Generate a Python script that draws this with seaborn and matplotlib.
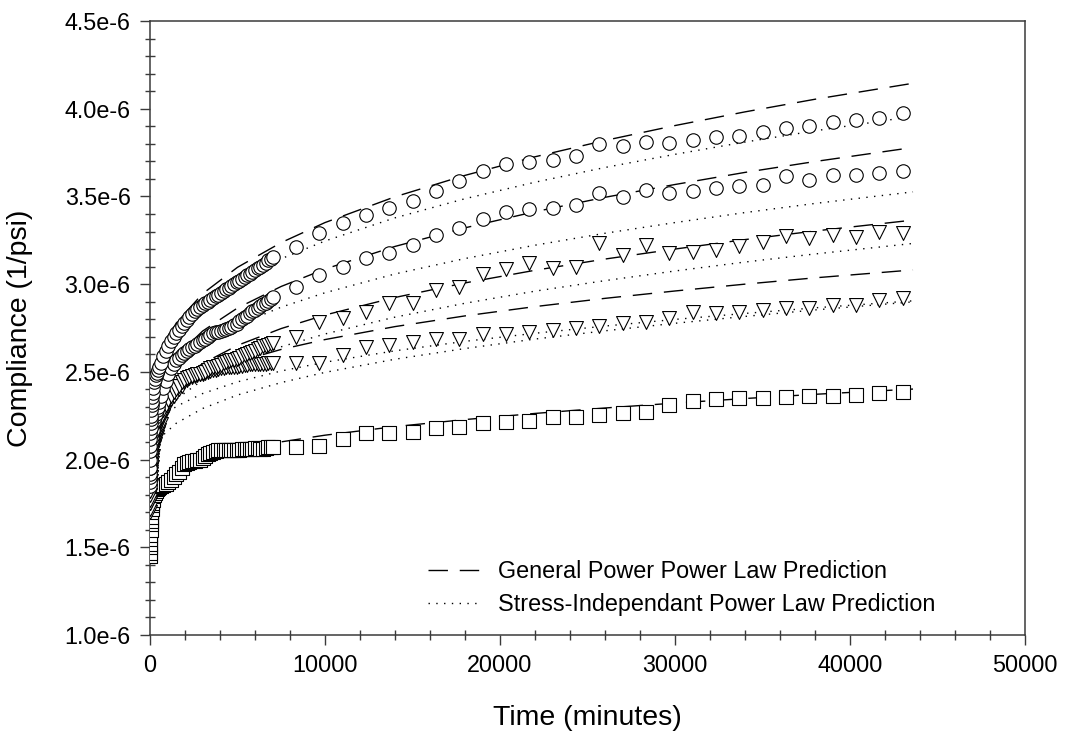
import matplotlib
matplotlib.use("Agg")
import numpy as np
import pandas as pd
import matplotlib.pyplot as plt
from matplotlib.lines import Line2D
from matplotlib.ticker import MultipleLocator, FuncFormatter
import seaborn as sns

# ---------------------------------------------------------------------------
# Creep compliance data (compliance values in units of 1e-6 1/psi)
# ---------------------------------------------------------------------------
# very first readings right after loading (minutes)
t_first = [2, 8, 20, 40, 60, 90, 125, 190, 240, 350, 400, 520]
# early, densely logged readings (minutes)
t_dense = [0, 5, 15, 30, 50, 75, 105, 150, 300, 450, 600, 750, 900, 1050, 1200,
           1350, 1500, 1650, 1800, 1950, 2100, 2250, 2400, 2550, 2700, 2850,
           3000, 3150, 3300, 3450, 3600, 3750, 3900, 4050, 4200, 4350, 4500,
           4650, 4800, 4950, 5100, 5250, 5400, 5550, 5700, 5850, 6000, 6150,
           6300, 6450, 6600, 6750, 6900]
# later, daily-ish readings (minutes)
t_sparse = [7000, 8330, 9660, 11000, 12330, 13660, 15000, 16330, 17660, 19000,
            20330, 21660, 23000, 24330, 25660, 27000, 28330, 29660, 31000,
            32330, 33660, 35000, 36330, 37660, 39000, 40330, 41660, 43000]

c1_first = [2.00, 2.08, 2.15, 2.21, 2.25, 2.31, 2.355, 2.41, 2.44, 2.48, 2.495, 2.53]
c1_dense = [1.95, 2.05, 2.12, 2.18, 2.23, 2.28, 2.33, 2.38, 2.46, 2.51, 2.55, 2.59,
            2.62, 2.65, 2.675, 2.70, 2.72, 2.74, 2.76, 2.78, 2.795, 2.81, 2.83,
            2.845, 2.86, 2.87, 2.88, 2.89, 2.90, 2.91, 2.92, 2.93, 2.94, 2.95,
            2.96, 2.97, 2.98, 2.99, 3.00, 3.01, 3.02, 3.03, 3.04, 3.05, 3.06,
            3.07, 3.08, 3.09, 3.10, 3.11, 3.12, 3.135, 3.145]
c1_sparse = [3.157, 3.213, 3.290, 3.350, 3.394, 3.432, 3.474, 3.531, 3.588, 3.645,
             3.683, 3.698, 3.708, 3.730, 3.797, 3.789, 3.808, 3.806, 3.822, 3.838,
             3.847, 3.869, 3.888, 3.901, 3.926, 3.936, 3.945, 3.974]

c2_first = [1.87, 1.92, 1.97, 2.03, 2.07, 2.11, 2.15, 2.20, 2.22, 2.26, 2.28, 2.33]
c2_dense = [1.85, 1.90, 1.95, 2.00, 2.05, 2.09, 2.13, 2.17, 2.24, 2.30, 2.36, 2.41,
            2.45, 2.49, 2.52, 2.545, 2.565, 2.58, 2.595, 2.61, 2.62, 2.63, 2.64,
            2.65, 2.66, 2.67, 2.68, 2.69, 2.70, 2.71, 2.72, 2.725, 2.73, 2.735,
            2.74, 2.745, 2.75, 2.755, 2.765, 2.775, 2.79, 2.80, 2.81, 2.82, 2.835,
            2.845, 2.855, 2.865, 2.875, 2.885, 2.895, 2.905, 2.915]
c2_sparse = [2.929, 2.982, 3.052, 3.100, 3.147, 3.176, 3.223, 3.280, 3.322, 3.373,
             3.413, 3.427, 3.432, 3.451, 3.518, 3.499, 3.537, 3.521, 3.531, 3.546,
             3.557, 3.565, 3.616, 3.594, 3.622, 3.622, 3.632, 3.647]

t1_first = [1.77, 1.82, 1.87, 1.93, 1.97, 2.02, 2.06, 2.11, 2.13, 2.17, 2.18, 2.22]
t1_dense = [1.75, 1.80, 1.85, 1.90, 1.95, 2.00, 2.04, 2.08, 2.15, 2.20, 2.24, 2.28,
            2.31, 2.34, 2.36, 2.385, 2.40, 2.42, 2.44, 2.455, 2.465, 2.47, 2.475,
            2.48, 2.485, 2.49, 2.495, 2.50, 2.51, 2.52, 2.525, 2.53, 2.535, 2.54,
            2.55, 2.555, 2.56, 2.565, 2.57, 2.575, 2.58, 2.59, 2.595, 2.60, 2.605,
            2.615, 2.62, 2.63, 2.635, 2.645, 2.65, 2.655, 2.66]
t1_sparse = [2.663, 2.700, 2.786, 2.805, 2.843, 2.890, 2.891, 2.967, 2.986, 3.060,
             3.087, 3.123, 3.090, 3.100, 3.233, 3.166, 3.223, 3.180, 3.185, 3.195,
             3.215, 3.242, 3.274, 3.261, 3.280, 3.270, 3.299, 3.290]

t2_first = [1.72, 1.77, 1.82, 1.88, 1.92, 1.96, 2.00, 2.05, 2.07, 2.11, 2.13, 2.17]
t2_dense = [1.70, 1.75, 1.80, 1.85, 1.90, 1.94, 1.98, 2.02, 2.09, 2.15, 2.20, 2.25,
            2.29, 2.32, 2.345, 2.365, 2.38, 2.40, 2.42, 2.44, 2.455, 2.465, 2.47,
            2.475, 2.48, 2.485, 2.49, 2.495, 2.50, 2.505, 2.51, 2.51, 2.515, 2.52,
            2.52, 2.525, 2.525, 2.53, 2.53, 2.53, 2.535, 2.535, 2.54, 2.54, 2.545,
            2.545, 2.545, 2.545, 2.545, 2.545, 2.545, 2.548, 2.549]
t2_sparse = [2.549, 2.549, 2.549, 2.596, 2.643, 2.653, 2.672, 2.685, 2.687, 2.715,
             2.715, 2.729, 2.739, 2.751, 2.759, 2.777, 2.786, 2.805, 2.843, 2.834,
             2.843, 2.853, 2.862, 2.862, 2.881, 2.881, 2.910, 2.919]

sq_first = [1.47, 1.52, 1.57, 1.63, 1.67, 1.72, 1.755, 1.79, 1.80, 1.82, 1.83, 1.845]
sq_dense = [1.45, 1.50, 1.55, 1.60, 1.65, 1.70, 1.74, 1.77, 1.81, 1.84, 1.85, 1.855,
            1.86, 1.87, 1.885, 1.90, 1.915, 1.93, 1.95, 1.975, 1.98, 1.985, 1.99,
            1.99, 1.995, 2.00, 2.01, 2.02, 2.03, 2.04, 2.045, 2.05, 2.055, 2.055,
            2.055, 2.055, 2.055, 2.055, 2.055, 2.055, 2.055, 2.06, 2.06, 2.06,
            2.06, 2.062, 2.065, 2.065, 2.06, 2.06, 2.065, 2.07, 2.07]
sq_sparse = [2.073, 2.073, 2.077, 2.115, 2.149, 2.149, 2.159, 2.178, 2.187, 2.207,
             2.216, 2.222, 2.244, 2.241, 2.254, 2.264, 2.273, 2.311, 2.334, 2.344,
             2.349, 2.352, 2.355, 2.360, 2.362, 2.370, 2.378, 2.385]

# model predictions sampled in time (minutes)
t_model = [0, 100, 300, 700, 1500, 3000, 5000, 7500, 10000, 14000, 18000, 22000,
           26000, 30000, 34000, 38000, 43600]

general_curves = [
    [2.170, 2.406, 2.516, 2.635, 2.778, 2.945, 3.096, 3.237, 3.351, 3.498, 3.620,
     3.726, 3.819, 3.904, 3.982, 4.054, 4.145],
    [2.056, 2.261, 2.358, 2.462, 2.586, 2.732, 2.864, 2.987, 3.086, 3.215, 3.321,
     3.413, 3.495, 3.568, 3.637, 3.699, 3.779],
    [2.020, 2.180, 2.256, 2.337, 2.434, 2.547, 2.651, 2.747, 2.824, 2.924, 3.007,
     3.079, 3.143, 3.200, 3.254, 3.303, 3.365],
    [2.094, 2.212, 2.267, 2.327, 2.398, 2.481, 2.557, 2.628, 2.684, 2.758, 2.819,
     2.872, 2.919, 2.961, 3.000, 3.036, 3.081],
    [1.748, 1.826, 1.863, 1.902, 1.949, 2.004, 2.055, 2.101, 2.139, 2.188, 2.228,
     2.263, 2.294, 2.322, 2.348, 2.372, 2.402],
]
independent_curves = [
    [2.191, 2.402, 2.500, 2.607, 2.734, 2.883, 3.019, 3.145, 3.246, 3.378, 3.487,
     3.581, 3.665, 3.740, 3.810, 3.874, 3.956],
    [2.097, 2.267, 2.347, 2.434, 2.537, 2.657, 2.767, 2.869, 2.951, 3.058, 3.146,
     3.222, 3.290, 3.351, 3.408, 3.460, 3.526],
    [1.950, 2.103, 2.174, 2.252, 2.344, 2.453, 2.551, 2.643, 2.716, 2.812, 2.891,
     2.960, 3.020, 3.075, 3.126, 3.172, 3.232],
    [2.035, 2.139, 2.187, 2.240, 2.303, 2.376, 2.443, 2.505, 2.555, 2.620, 2.674,
     2.720, 2.761, 2.799, 2.833, 2.865, 2.905],
    [1.899, 2.018, 2.074, 2.135, 2.207, 2.291, 2.368, 2.439, 2.497, 2.572, 2.633,
     2.687, 2.734, 2.777, 2.816, 2.853, 2.899],
]

legend_labels = ["General Power Power Law Prediction",
                 "Stress-Independant Power Law Prediction"]

MICRO = 1e-6

# ---------------------------------------------------------------------------
sns.set_theme(style="white")
plt.rcParams["font.family"] = ["Liberation Sans", "DejaVu Sans"]
plt.rcParams["text.color"] = "black"

fig = plt.figure(figsize=(10.66, 7.39), dpi=100)
ax = fig.add_axes([150 / 1066, 104 / 739, 875 / 1066, 614 / 739])

DASH = (0, (14, 8.5))
DOT = (0, (1.0, 4.6))

for curve in general_curves:
    sns.lineplot(x=t_model, y=np.array(curve) * MICRO, ax=ax, color="black",
                 linewidth=1.0, linestyle=DASH, zorder=1, legend=False)
for curve in independent_curves:
    sns.lineplot(x=t_model, y=np.array(curve) * MICRO, ax=ax, color="black",
                 linewidth=1.0, linestyle=DOT, zorder=1, legend=False)

series = [
    (sq_first, sq_dense, sq_sparse, "s", 88),
    (t2_first, t2_dense, t2_sparse, "v", 100),
    (t1_first, t1_dense, t1_sparse, "v", 100),
    (c2_first, c2_dense, c2_sparse, "o", 94),
    (c1_first, c1_dense, c1_sparse, "o", 94),
]
for first, dense, sparse, marker, size in series:
    df = pd.DataFrame({
        "time": list(t_first) + list(t_dense) + list(t_sparse),
        "compliance": np.array(list(first) + list(dense) + list(sparse)) * MICRO,
    }).sort_values("time")
    sns.scatterplot(data=df, x="time", y="compliance", ax=ax, marker=marker,
                    s=size, color="white", edgecolor="black", linewidth=0.8,
                    zorder=3, legend=False)

ax.set_xlim(0, 50000)
ax.set_ylim(1.0e-6, 4.5e-6)

ax.xaxis.set_major_locator(MultipleLocator(10000))
ax.xaxis.set_minor_locator(MultipleLocator(2000))
ax.yaxis.set_major_locator(MultipleLocator(0.5e-6))
ax.yaxis.set_minor_locator(MultipleLocator(0.1e-6))
ax.xaxis.set_major_formatter(FuncFormatter(lambda v, p: f"{v:.0f}"))
ax.yaxis.set_major_formatter(FuncFormatter(lambda v, p: f"{v / MICRO:.1f}e-6"))

spine_color = "#3a3a3a"
for s in ax.spines.values():
    s.set_color(spine_color)
    s.set_linewidth(1.1)

ax.tick_params(which="major", direction="out", length=7, width=1.0,
               color=spine_color, labelsize=16.8, pad=7, labelcolor="black",
               bottom=True, left=True, top=False, right=False)
ax.tick_params(which="minor", direction="inout", length=7, width=1.0,
               color=spine_color, bottom=True, left=True, top=False, right=False)

ax.set_xlabel("Time (minutes)", fontsize=20.5, color="black")
ax.set_ylabel("Compliance (1/psi)", fontsize=20.5, color="black")
ax.xaxis.label.set_va("center")
ax.yaxis.label.set_va("center")
ax.xaxis.set_label_coords(0.5, (635 - 718) / 614)
ax.yaxis.set_label_coords((20 - 150) / 875, 0.5)

handles = [Line2D([], [], color="black", linewidth=1.0, linestyle=DASH),
           Line2D([], [], color="black", linewidth=1.0, linestyle=DOT)]
ax.legend(handles, legend_labels, loc="center left",
          bbox_to_anchor=((428 - 150) / 875, (635 - 588) / 614),
          frameon=False, fontsize=16.8, handlelength=2.3, handletextpad=0.7,
          borderpad=0, borderaxespad=0, labelspacing=0.45, labelcolor="black")

fig.savefig("out.png", dpi=100)
